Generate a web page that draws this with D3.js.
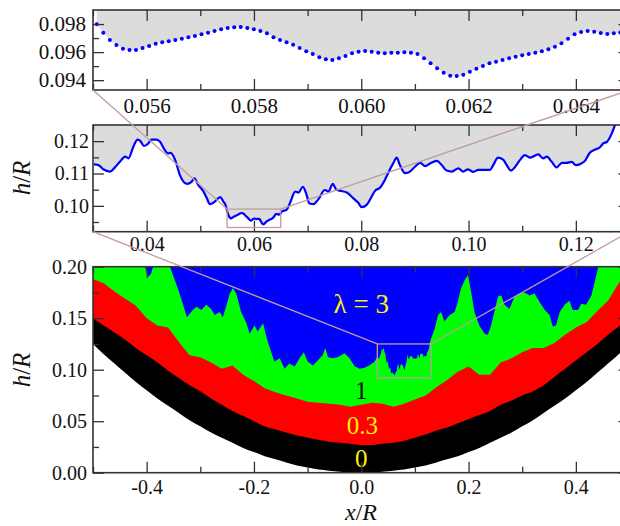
<!DOCTYPE html>
<html>
<head>
<meta charset="utf-8">
<script src="https://cdn.jsdelivr.net/npm/d3@7"></script>
<style>
body { margin: 0; background: #fff; }
text { font-family: "Liberation Serif", "Times New Roman", serif; fill: #111; }
</style>
</head>
<body>
<svg width="620" height="526"></svg>
<script>
// ---- data ----
// top panel: sampled profile points (dots), equal x spacing
const zoomX0 = 0.05507, zoomDx = 0.000122;
const zoomH = [
  0.09798, 0.09738, 0.09686, 0.09651, 0.09624, 0.09615, 0.09615, 0.09629, 0.09644, 0.09660,
  0.09670, 0.09677, 0.09686, 0.09696, 0.09705, 0.09715, 0.09727, 0.09738, 0.09750, 0.09762,
  0.09772, 0.09777, 0.09779, 0.09772, 0.09762, 0.09750, 0.09734, 0.09705, 0.09686, 0.09670,
  0.09653, 0.09629, 0.09606, 0.09587, 0.09563, 0.09549, 0.09544, 0.09556, 0.09572, 0.09591,
  0.09603, 0.09608, 0.09603, 0.09596, 0.09591, 0.09596, 0.09596, 0.09599, 0.09596, 0.09587,
  0.09556, 0.09520, 0.09485, 0.09453, 0.09432, 0.09430, 0.09439, 0.09460, 0.09482, 0.09501,
  0.09520, 0.09532, 0.09544, 0.09556, 0.09567, 0.09577, 0.09587, 0.09596, 0.09606, 0.09620,
  0.09639, 0.09663, 0.09696, 0.09727, 0.09743, 0.09750, 0.09745, 0.09736, 0.09729, 0.09734,
  0.09740
];

// middle panel: profile outside the zoomed window
const midX = [
  0.0302, 0.0310, 0.0319, 0.0332, 0.0341, 0.0350, 0.0360, 0.0366, 0.0375, 0.0383,
  0.0388, 0.0395, 0.0403, 0.0409, 0.0419, 0.0425, 0.0434, 0.0440, 0.0445, 0.0453,
  0.0462, 0.0475, 0.0484, 0.0489, 0.0496, 0.0506, 0.0512, 0.0518, 0.0527, 0.0537,
  0.0543, 0.0547,
  0.0652, 0.0661, 0.0667, 0.0677, 0.0683, 0.0691, 0.0697, 0.0703, 0.0711, 0.0720,
  0.0732, 0.0739, 0.0747, 0.0753, 0.0760, 0.0773, 0.0785, 0.0794, 0.0801, 0.0810,
  0.0816, 0.0826, 0.0835, 0.0844, 0.0850, 0.0860, 0.0866, 0.0872, 0.0882, 0.0891,
  0.0900, 0.0910, 0.0919, 0.0928, 0.0941, 0.0950, 0.0959, 0.0969, 0.0981, 0.0990,
  0.0999, 0.1009, 0.1018, 0.1040, 0.1046, 0.1055, 0.1065, 0.1071, 0.1079, 0.1087,
  0.1096, 0.1105, 0.1115, 0.1130, 0.1139, 0.1146, 0.1155, 0.1164, 0.1174, 0.1183,
  0.1192, 0.1200, 0.1208, 0.1217, 0.1226, 0.1236, 0.1245, 0.1251, 0.1258, 0.1267,
  0.1273, 0.1280
];
const midH = [
  0.1128, 0.1126, 0.1113, 0.1106, 0.1119, 0.1136, 0.1152, 0.1147, 0.1182, 0.1205,
  0.1201, 0.1185, 0.1193, 0.1205, 0.1205, 0.1198, 0.1172, 0.1162, 0.1164, 0.1142,
  0.1095, 0.1068, 0.1075, 0.1085, 0.1065, 0.1044, 0.1024, 0.1005, 0.1013, 0.1027,
  0.1013, 0.1003,
  0.0982, 0.0988, 0.1008, 0.1044, 0.1041, 0.1059, 0.1040, 0.1008, 0.1005, 0.1020,
  0.1049, 0.1044, 0.1068, 0.1051, 0.1047, 0.1041, 0.1024, 0.1010, 0.0996, 0.1003,
  0.1018, 0.1047, 0.1056, 0.1080, 0.1101, 0.1133, 0.1149, 0.1126, 0.1101, 0.1106,
  0.1121, 0.1133, 0.1123, 0.1131, 0.1139, 0.1126, 0.1109, 0.1106, 0.1116, 0.1106,
  0.1113, 0.1105, 0.1111, 0.1111, 0.1126, 0.1149, 0.1142, 0.1126, 0.1109, 0.1121,
  0.1142, 0.1157, 0.1149, 0.1159, 0.1147, 0.1152, 0.1136, 0.1119, 0.1133, 0.1133,
  0.1136, 0.1126, 0.1129, 0.1139, 0.1164, 0.1174, 0.1181, 0.1193, 0.1198, 0.1224,
  0.1250, 0.1275
];

// bottom panel: layer boundaries on a regular x grid
const gridX = d3.range(-0.5, 0.5001, 0.02);
const bottomLam0 = [ // lower edge of the black band (surface)
  0.125, 0.115, 0.106, 0.097, 0.088, 0.080, 0.072, 0.065, 0.058, 0.051,
  0.045, 0.039, 0.034, 0.029, 0.024, 0.020, 0.016, 0.013, 0.010, 0.007,
  0.005, 0.003, 0.002, 0.001, 0.0002, 0.0, 0.0002, 0.001, 0.002, 0.003,
  0.005, 0.007, 0.010, 0.013, 0.016, 0.020, 0.024, 0.029, 0.034, 0.039,
  0.045, 0.051, 0.058, 0.065, 0.072, 0.080, 0.088, 0.097, 0.106, 0.115, 0.125
];
const topLam0 = [
  0.150, 0.143, 0.136, 0.129, 0.121, 0.114, 0.107, 0.099, 0.092, 0.085,
  0.079, 0.072, 0.066, 0.060, 0.055, 0.050, 0.045, 0.042, 0.039, 0.036,
  0.034, 0.032, 0.030, 0.029, 0.028, 0.027, 0.027, 0.028, 0.029, 0.031,
  0.034, 0.037, 0.041, 0.044, 0.048, 0.052, 0.056, 0.060, 0.066, 0.070,
  0.075, 0.079, 0.085, 0.093, 0.101, 0.109, 0.117, 0.125, 0.134, 0.142, 0.151
];
const topLam03 = [
  0.188, 0.184, 0.176, 0.169, 0.162, 0.150, 0.143, 0.141, 0.127, 0.114,
  0.112, 0.107, 0.101, 0.104, 0.095, 0.089, 0.082, 0.078, 0.075, 0.072,
  0.069, 0.068, 0.067, 0.066, 0.064, 0.066, 0.068, 0.067, 0.064, 0.067,
  0.071, 0.075, 0.083, 0.090, 0.098, 0.103, 0.095, 0.095, 0.107, 0.111,
  0.117, 0.121, 0.121, 0.126, 0.134, 0.141, 0.146, 0.157, 0.167, 0.184, 0.200
];
// green / blue boundary (lambda = 1 front), outside the middle-panel window
const lam1X = [
  -0.500, -0.410, -0.402, -0.398, -0.392, -0.385, -0.375, -0.360, -0.351, -0.342,
  -0.332, -0.325, -0.314, -0.307, -0.298, -0.289, -0.280, -0.273, -0.264, -0.258,
  -0.252, -0.245, -0.239, -0.233, -0.224, -0.214, -0.208, -0.199, -0.193, -0.183,
  -0.176, -0.171, -0.162, -0.152, -0.143, -0.134, -0.124, -0.115, -0.107, -0.100,
  -0.090, -0.081, -0.072, -0.067, -0.062, -0.053, -0.044, -0.031, -0.022, -0.012,
  -0.003, 0.006, 0.015, 0.025,
  0.130, 0.137, 0.143, 0.149, 0.155, 0.165, 0.174, 0.180, 0.186, 0.193,
  0.199, 0.205, 0.211, 0.220, 0.230, 0.236, 0.242, 0.248, 0.255, 0.261,
  0.267, 0.276, 0.286, 0.295, 0.304, 0.314, 0.323, 0.332, 0.342, 0.351,
  0.357, 0.363, 0.370, 0.379, 0.388, 0.394, 0.404, 0.410, 0.419, 0.429,
  0.435, 0.441, 0.445, 0.500
];
const lam1H = [
  0.215, 0.215, 0.198, 0.190, 0.193, 0.205, 0.215, 0.205, 0.192, 0.179,
  0.163, 0.151, 0.158, 0.161, 0.158, 0.163, 0.159, 0.153, 0.156, 0.151,
  0.161, 0.174, 0.179, 0.174, 0.156, 0.145, 0.135, 0.143, 0.137, 0.145,
  0.130, 0.122, 0.108, 0.111, 0.101, 0.106, 0.103, 0.111, 0.117, 0.108,
  0.104, 0.109, 0.114, 0.121, 0.112, 0.111, 0.112, 0.116, 0.111, 0.103,
  0.101, 0.102, 0.104, 0.108,
  0.130, 0.140, 0.153, 0.156, 0.147, 0.153, 0.156, 0.166, 0.179, 0.187,
  0.192, 0.175, 0.156, 0.143, 0.135, 0.134, 0.143, 0.156, 0.171, 0.172,
  0.163, 0.159, 0.171, 0.174, 0.175, 0.172, 0.174, 0.166, 0.158, 0.153,
  0.142, 0.143, 0.156, 0.163, 0.167, 0.158, 0.158, 0.164, 0.163, 0.172,
  0.185, 0.198, 0.215, 0.215
];

// tick labels
const topXTicks = [0.056, 0.058, 0.060, 0.062, 0.064];
const topYTicks = [0.094, 0.096, 0.098];
const midXTicks = [0.04, 0.06, 0.08, 0.10, 0.12];
const midYTicks = [0.10, 0.11, 0.12];
const botXTicks = [-0.4, -0.2, 0.0, 0.2, 0.4];
const botYTicks = [0.00, 0.05, 0.10, 0.15, 0.20];
const layerLabels = ["\u03bb = 3", "1", "0.3", "0"];

// ---- layout ----
const serif = "'Liberation Serif', 'Times New Roman', serif";
const left = 93, right = 629.5;
const svg = d3.select("svg");

const profile = zoomH.map((h, i) => ({ x: zoomX0 + i * zoomDx, h: h }));
const midProfile = midX.map((x, i) => ({ x: x, h: midH[i] }))
  .concat(profile)
  .sort((a, b) => a.x - b.x);

const xTop = d3.scaleLinear().domain([0.055, 0.065]).range([left, right]);
const yTop = d3.scaleLinear().domain([0.0933, 0.0990]).range([90, 10]);
const xMid = d3.scaleLinear().domain([0.03, 0.13]).range([left, right]);
const yMid = d3.scaleLinear().domain([0.092, 0.125]).range([231.7, 125]);
const xBot = d3.scaleLinear().domain([-0.5, 0.5]).range([left, right]);
const yBot = d3.scaleLinear().domain([0, 0.2]).range([472.7, 266.7]);

function clipFor (id, x, y) {
  svg.append("clipPath").attr("id", id)
    .append("rect")
    .attr("x", x.range()[0]).attr("y", y.range()[1])
    .attr("width", x.range()[1] - x.range()[0])
    .attr("height", y.range()[0] - y.range()[1]);
  return svg.append("g").attr("clip-path", `url(#${id})`);
}

function drawFrame (x, y, opts) {
  const g = svg.append("g");
  const x0 = x.range()[0], x1 = x.range()[1], y0 = y.range()[0], y1 = y.range()[1];
  const sides = [
    [d3.axisBottom(x), `translate(0,${y0})`, opts.xTicks, opts.xMinor, true],
    [d3.axisTop(x), `translate(0,${y1})`, opts.xTicks, opts.xMinor, false],
    [d3.axisLeft(y), `translate(${x0},0)`, opts.yTicks, opts.yMinor, true],
    [d3.axisRight(y), `translate(${x1},0)`, opts.yTicks, opts.yMinor, false]
  ];
  sides.forEach(([axis, tr, major, minor, labelled], k) => {
    const fmt = k < 2 ? opts.xFmt : opts.yFmt;
    const ga = g.append("g").attr("transform", tr)
      .call(axis.tickValues(major).tickSizeInner(-11).tickSizeOuter(0)
        .tickPadding(k < 2 ? opts.xPad : opts.yPad)
        .tickFormat(labelled ? fmt : ""));
    ga.attr("font-family", serif);
    ga.select(".domain").remove();
    ga.selectAll("text").attr("font-size", opts.fontSize)
      .style("font-family", serif).attr("fill", "#111");
    ga.selectAll("line").attr("stroke", "#333").attr("stroke-width", 1.3);
    const gm = g.append("g").attr("transform", tr)
      .call(axis.tickValues(minor).tickSizeInner(-6).tickSizeOuter(0).tickFormat(""));
    gm.select(".domain").remove();
    gm.selectAll("line").attr("stroke", "#333").attr("stroke-width", 1.3);
  });
  g.append("rect").attr("x", x0).attr("y", y1)
    .attr("width", x1 - x0).attr("height", y0 - y1)
    .attr("fill", "none").attr("stroke", "#333").attr("stroke-width", 1.6);
}

// ---- top panel ----
const gTop = clipFor("clipTop", xTop, yTop);
gTop.append("path").datum(profile)
  .attr("fill", "#dcdcdc")
  .attr("d", d3.area().x(d => xTop(d.x)).y0(yTop(0.0990)).y1(d => yTop(d.h)).curve(d3.curveMonotoneX));
gTop.selectAll("circle").data(profile).enter().append("circle")
  .attr("cx", d => xTop(d.x)).attr("cy", d => yTop(d.h)).attr("r", 2)
  .attr("fill", "#0000ff");
drawFrame(xTop, yTop, {
  xTicks: topXTicks, xMinor: [0.055, 0.057, 0.059, 0.061, 0.063, 0.065],
  yTicks: topYTicks, yMinor: [0.095, 0.097],
  xFmt: d3.format(".3f"), yFmt: d3.format(".3f"), xPad: 8, yPad: 7, fontSize: 21
});

// ---- middle panel ----
const gMid = clipFor("clipMid", xMid, yMid);
gMid.append("path").datum(midProfile)
  .attr("fill", "#dcdcdc")
  .attr("d", d3.area().x(d => xMid(d.x)).y0(yMid(0.125)).y1(d => yMid(d.h)).curve(d3.curveMonotoneX));
gMid.append("path").datum(midProfile)
  .attr("fill", "none").attr("stroke", "#0000ff").attr("stroke-width", 2.2)
  .attr("d", d3.line().x(d => xMid(d.x)).y(d => yMid(d.h)).curve(d3.curveMonotoneX));
drawFrame(xMid, yMid, {
  xTicks: midXTicks, xMinor: [0.03, 0.05, 0.07, 0.09, 0.11, 0.13],
  yTicks: midYTicks, yMinor: [0.095, 0.105, 0.115],
  xFmt: d3.format(".2f"), yFmt: d3.format(".2f"), xPad: 5, yPad: 4, fontSize: 20
});

// ---- bottom panel ----
const gBot = clipFor("clipBot", xBot, yBot);
gBot.append("rect").attr("x", left).attr("y", yBot(0.2))
  .attr("width", right - left).attr("height", yBot(0) - yBot(0.2)).attr("fill", "#0000ff");
const lam1 = lam1X.map((x, i) => ({ x: x, h: lam1H[i] }))
  .concat(midX.map((x, i) => ({ x: x, h: midH[i] })).filter(d => d.x < 0.128))
  .concat(profile)
  .sort((a, b) => a.x - b.x);
const layer = (xs, hs) => xs.map((x, i) => ({ x: x, h: hs[i] }));
const fillArea = (data, color, curve) => gBot.append("path").datum(data)
  .attr("fill", color)
  .attr("d", d3.area().x(d => xBot(d.x)).y0(yBot(-0.01)).y1(d => yBot(d.h)).curve(curve));
fillArea(lam1, "#00ff00", d3.curveLinear);
fillArea(layer(gridX, topLam03), "#ff0000", d3.curveLinear);
fillArea(layer(gridX, topLam0), "#000000", d3.curveMonotoneX);
fillArea(layer(gridX, bottomLam0), "#ffffff", d3.curveMonotoneX);

const labelPos = [[0, 0.155, "#fff200", 27], [0, 0.0715, "#111", 25], [0.002, 0.038, "#fff200", 25], [0, 0.0055, "#fff200", 25]];
layerLabels.forEach((t, i) => {
  svg.append("text").attr("x", xBot(labelPos[i][0])).attr("y", yBot(labelPos[i][1]))
    .attr("text-anchor", "middle").attr("font-size", labelPos[i][3])
    .style("fill", labelPos[i][2]).text(t);
});
drawFrame(xBot, yBot, {
  xTicks: botXTicks, xMinor: [-0.5, -0.3, -0.1, 0.1, 0.3, 0.5],
  yTicks: botYTicks, yMinor: [0.025, 0.075, 0.125, 0.175],
  xFmt: d3.format(".1f"), yFmt: d3.format(".2f"), xPad: 7, yPad: 6, fontSize: 20
});
svg.selectAll("text").filter(function () { return this.textContent.startsWith("\u2212"); })
  .text(function () { return "-" + this.textContent.slice(1); });

// ---- zoom boxes and connectors ----
const link = "#c29c9c";
function zoomBox (x, y, bx, by) {
  svg.append("rect")
    .attr("x", x(bx[0])).attr("y", y(by[1]))
    .attr("width", x(bx[1]) - x(bx[0])).attr("height", y(by[0]) - y(by[1]))
    .attr("fill", "none").attr("stroke", link).attr("stroke-width", 1.3);
}
function connect (x1, y1, x2, y2) {
  svg.append("line").attr("x1", x1).attr("y1", y1).attr("x2", x2).attr("y2", y2)
    .attr("stroke", link).attr("stroke-width", 1.3);
}
zoomBox(xMid, yMid, xTop.domain(), yTop.domain());
connect(left, yTop.range()[0], xMid(0.055), yMid(yTop.domain()[1]));
connect(right, yTop.range()[0], xMid(0.065), yMid(yTop.domain()[1]));
zoomBox(xBot, yBot, xMid.domain(), yMid.domain());
connect(left, yMid.range()[0], xBot(0.03), yBot(0.125));
connect(right, yMid.range()[0], xBot(0.13), yBot(0.125));

// ---- axis titles ----
const title = (x, y, rot, parts, size) => {
  const t = svg.append("text").attr("text-anchor", "middle").attr("font-size", size)
    .attr("transform", `translate(${x},${y}) rotate(${rot})`);
  parts.forEach(([s, it]) => t.append("tspan").attr("font-style", it ? "italic" : "normal").text(s));
};
title(30, 178, -90, [["h", true], ["/", false], ["R", true]], 25);
title(30, 370, -90, [["h", true], ["/", false], ["R", true]], 25);
title(361, 520, 0, [["x", true], ["/", false], ["R", true]], 24);
</script>
</body>
</html>
